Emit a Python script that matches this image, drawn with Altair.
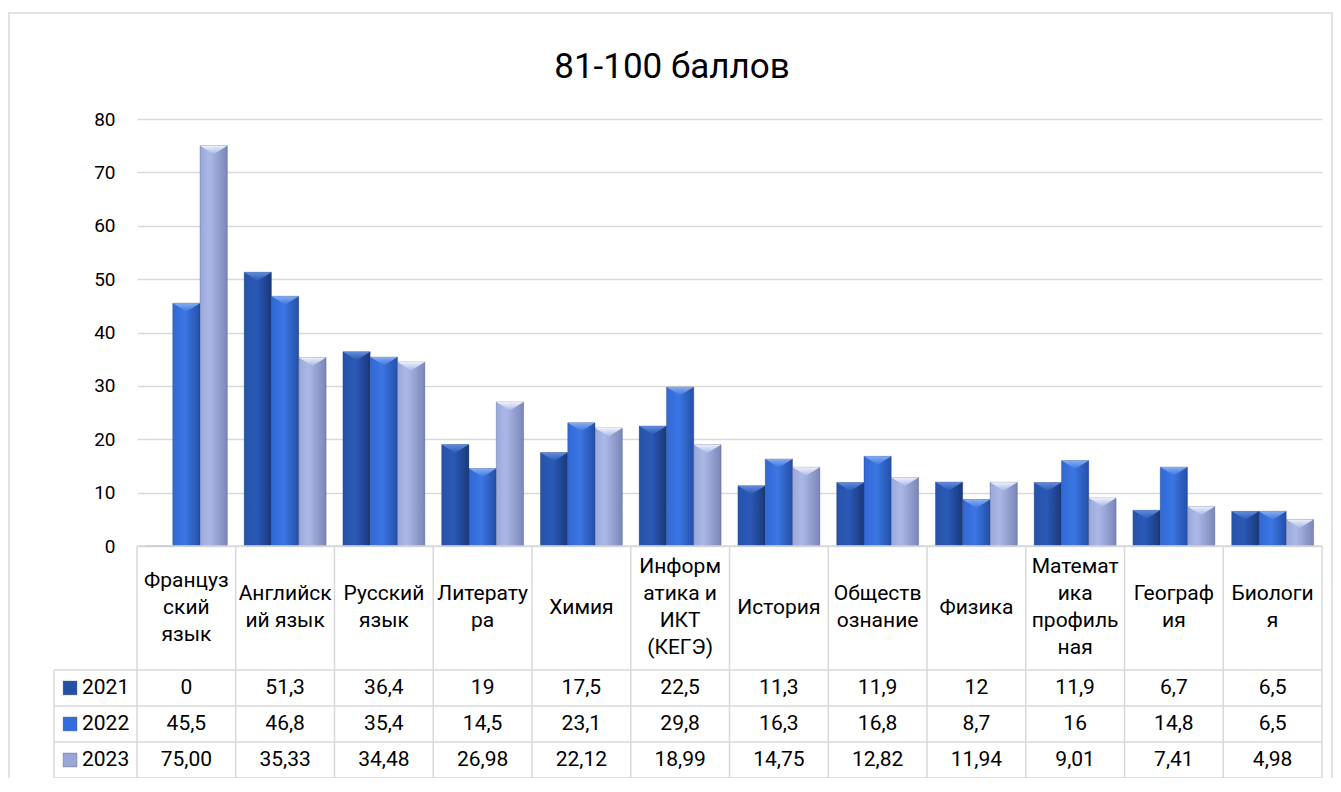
import altair as alt
import pandas as pd

# ---------------- data ----------------
title_text = "81-100 баллов"
categories = ["Французский язык", "Английский язык", "Русский язык", "Литература", "Химия",
              "Информатика и ИКТ (КЕГЭ)", "История", "Обществознание", "Физика",
              "Математика профильная", "География", "Биология"]
header_lines = [["Француз", "ский", "язык"], ["Английск", "ий язык"], ["Русский", "язык"],
                ["Литерату", "ра"], ["Химия"], ["Информ", "атика и", "ИКТ", "(КЕГЭ)"],
                ["История"], ["Обществ", "ознание"], ["Физика"],
                ["Математ", "ика", "профиль", "ная"], ["Географ", "ия"], ["Биологи", "я"]]
years = ["2021", "2022", "2023"]
v2021 = [0, 51.3, 36.4, 19, 17.5, 22.5, 11.3, 11.9, 12, 11.9, 6.7, 6.5]
v2022 = [45.5, 46.8, 35.4, 14.5, 23.1, 29.8, 16.3, 16.8, 8.7, 16, 14.8, 6.5]
v2023 = [75.00, 35.33, 34.48, 26.98, 22.12, 18.99, 14.75, 12.82, 11.94, 9.01, 7.41, 4.98]
y_ticks = [0, 10, 20, 30, 40, 50, 60, 70, 80]

FONT = "Roboto"
W, H = 1185, 427
HEADER_H = 3.44          # header row height in table-row units (1 unit = one data row)
YEAR_COL = 0.8405        # width of the year column in category units
LINE_H = 0.75            # header text line height in table-row units
KEY_X = -0.678           # centre of the legend key inside the year column
YEAR_X = -0.557          # left edge of the year label inside the year column

series = {"2021": v2021, "2022": v2022, "2023": v2023}
rows = []
for ri, yr in enumerate(years):
    for i, (c, v) in enumerate(zip(categories, series[yr])):
        lab = f"{v:.2f}".replace(".", ",") if yr == "2023" else f"{v:g}".replace(".", ",")
        rows.append({"cat": c, "idx": i, "xc": i + 0.5, "year": yr, "value": v,
                     "label": lab, "row": HEADER_H + ri + 0.5})
df = pd.DataFrame(rows)

hdr_rows = []
for i, (c, parts) in enumerate(zip(categories, header_lines)):
    m = len(parts)
    for j, t in enumerate(parts):
        hdr_rows.append({"cat": c, "xc": i + 0.5, "text": t,
                         "row": HEADER_H / 2 + (j - (m - 1) / 2) * LINE_H})
hdr = pd.DataFrame(hdr_rows)

yrs = pd.DataFrame({"year": years, "kx": [KEY_X] * 3, "tx": [YEAR_X] * 3,
                    "row": [HEADER_H + k + 0.5 for k in range(3)]})

n = len(categories)
lines = []
lines.append({"x": 0, "x2": n, "y": 0, "y2": 0})
for k in range(4):
    lines.append({"x": -YEAR_COL, "x2": n, "y": HEADER_H + k, "y2": HEADER_H + k})
lines.append({"x": -YEAR_COL, "x2": -YEAR_COL, "y": HEADER_H, "y2": HEADER_H + 3})
for i in range(n + 1):
    lines.append({"x": i, "x2": i, "y": 0, "y2": HEADER_H + 3})
lines_df = pd.DataFrame(lines)

# ---------------- styles ----------------
def hgrad(stops):
    return alt.LinearGradient(gradient="linear", x1=0, x2=1, y1=0, y2=0,
                              stops=[alt.GradientStop(color=c, offset=o) for o, c in stops])

def vgrad(stops):
    return alt.LinearGradient(gradient="linear", x1=0, x2=0, y1=0, y2=1,
                              stops=[alt.GradientStop(color=c, offset=o) for o, c in stops])

bar_fill = {
    "2021": hgrad([(0, "#2653a8"), (0.45, "#2a59b8"), (1, "#1a387a")]),
    "2022": hgrad([(0, "#3168d4"), (0.45, "#3b76e2"), (1, "#244fa8")]),
    "2023": hgrad([(0, "#9aa8da"), (0.35, "#abb8e7"), (1, "#7a86b8")]),
}
cap_fill = {
    "2021": vgrad([(0, "#6690dc"), (1, "#2a59b8")]),
    "2022": vgrad([(0, "#8db0f2"), (1, "#3b76e2")]),
    "2023": vgrad([(0, "#f2f4fc"), (1, "#abb8e7")]),
}
key_colors = ["#2450a6", "#336ddb", "#9aa6d6"]

x_band = alt.X("cat:N", sort=categories, axis=None,
               scale=alt.Scale(paddingInner=0.17, paddingOuter=0.085))
x_off = alt.XOffset("year:N", sort=years, scale=alt.Scale(domain=years, paddingInner=0))
y_val = alt.Y("value:Q", scale=alt.Scale(domain=[0, 80], nice=False),
              axis=alt.Axis(values=y_ticks, grid=True, gridColor="#d9d9d9", gridWidth=1.5,
                            domain=False, ticks=False, labelFont=FONT, labelFontSize=19,
                            labelColor="#000000", labelPadding=22, title=None))

bw = W / (n - 0.17 + 0.17) * 0.83 / 3
layers = []
for k, yr in enumerate(years):
    base = alt.Chart(df).transform_filter(alt.datum.year == yr)
    layers.append(base.mark_bar(fill=bar_fill[yr], stroke="#1b2f66", strokeOpacity=0.35,
                                strokeWidth=0.8)
                  .encode(x=x_band, xOffset=x_off, y=y_val))
    layers.append(base.transform_filter(alt.datum.value > 0)
                  .mark_point(shape="M-1,0L1,0L0,0.62Z", size=bw * bw, filled=True,
                              fill=cap_fill[yr], opacity=0.95, strokeWidth=0)
                  .encode(x=x_band, xOffset=x_off, y=y_val))
bars = alt.layer(*layers)

tx = alt.Scale(domain=[0, n], nice=False, zero=False)
ty = alt.Scale(domain=[0, HEADER_H + 3], range=[H, H + 232], nice=False, zero=False)

grid_lines = alt.Chart(lines_df).mark_rule(color="#d9d9d9", strokeWidth=1.5).encode(
    x=alt.X("x:Q", scale=tx, axis=None), x2="x2:Q",
    y=alt.Y("y:Q", scale=ty, axis=None), y2="y2:Q")

header_text = alt.Chart(hdr).mark_text(font=FONT, fontSize=21, align="center",
                                       baseline="middle", color="#000000").encode(
    x=alt.X("xc:Q", scale=tx, axis=None), y=alt.Y("row:Q", scale=ty, axis=None),
    text="text:N")

cell_text = alt.Chart(df).mark_text(font=FONT, fontSize=21, align="center",
                                    baseline="middle", color="#000000").encode(
    x=alt.X("xc:Q", scale=tx, axis=None), y=alt.Y("row:Q", scale=ty, axis=None), text="label:N")

year_text = alt.Chart(yrs).mark_text(font=FONT, fontSize=21, align="left",
                                     baseline="middle", color="#000000").encode(
    x=alt.X("tx:Q", scale=tx, axis=None), y=alt.Y("row:Q", scale=ty, axis=None), text="year:N")

year_keys = alt.Chart(yrs).mark_square(size=190, opacity=1, stroke="#1b2f66",
                                       strokeOpacity=0.4, strokeWidth=0.8).encode(
    x=alt.X("kx:Q", scale=tx, axis=None), y=alt.Y("row:Q", scale=ty, axis=None),
    color=alt.Color("year:N", scale=alt.Scale(domain=years, range=key_colors), legend=None))

table = alt.layer(grid_lines, header_text, cell_text, year_keys, year_text)

frame = alt.Chart(pd.DataFrame({"f": [1]})).mark_rect(
    fill="transparent", stroke="#d9d9d9", strokeWidth=1.5).encode(
    x=alt.value(-128), x2=alt.value(1195), y=alt.value(-106), y2=alt.value(700))

title = alt.Chart(pd.DataFrame({"t": [title_text]})).mark_text(
    font=FONT, fontSize=35, align="center", baseline="middle", color="#000000").encode(
    x=alt.value(535), y=alt.value(-52), text="t:N")

chart = alt.layer(frame, title, bars, table).resolve_scale(
    x="independent", y="independent").properties(
    width=W, height=H,
    autosize=alt.AutoSizeParams(type="none"),
    padding={"left": 129, "top": 111, "right": 11, "bottom": 232},
).configure_view(stroke=None)

chart.save("out.html", embed_options={"renderer": "svg", "actions": False})
